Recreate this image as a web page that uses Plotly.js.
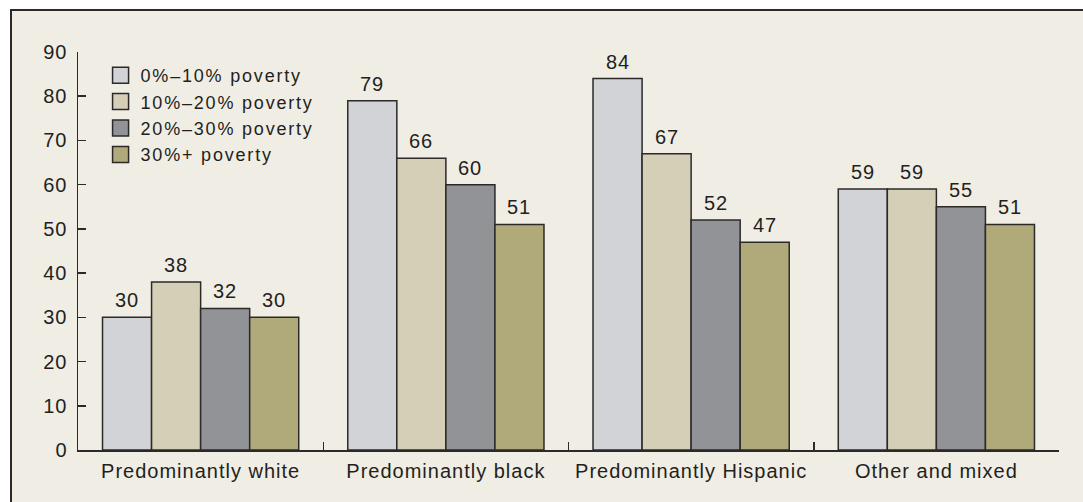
<!DOCTYPE html>
<html>
<head>
<meta charset="utf-8">
<script src="https://cdn.plot.ly/plotly-3.0.1.min.js"></script>
<style>
  html, body { margin: 0; padding: 0; background: #ffffff; width: 1083px; height: 502px; overflow: hidden; }
  #frame { position: absolute; left: 10px; top: 9px; width: 1073px; height: 493px;
           border-left: 2px solid #2b2a29; border-top: 2px solid #2b2a29; background: #f0ede5; }
  #chart { width: 1071px; height: 491px; }
  #chart text { letter-spacing: 1px; }
  #chart .legend text { letter-spacing: 1.8px; }
  #chart .legend .scrollbox, #chart .legend { clip-path: none !important; }
</style>
</head>
<body>
<div id="frame"><div id="chart"></div></div>
<script>
const categories = ["Predominantly white", "Predominantly black", "Predominantly Hispanic", "Other and mixed"];
const seriesNames = ["0%\u201310% poverty", "10%\u201320% poverty", "20%\u201330% poverty", "30%+ poverty"];
const pov0_10 = [30, 79, 84, 59];
const pov10_20 = [38, 66, 67, 59];
const pov20_30 = [32, 60, 52, 55];
const pov30plus = [30, 51, 47, 51];
const yTicks = [0, 10, 20, 30, 40, 50, 60, 70, 80, 90];

const seriesValues = [pov0_10, pov10_20, pov20_30, pov30plus];
const colors = ["#d2d3d6", "#d6cfb7", "#929397", "#b0aa7b"];
const edge = "#2b2a29";
const textColor = "#231f20";
const fontFam = "Liberation Sans, Arial, Helvetica, sans-serif";

const traces = [];
seriesValues.forEach((vals, i) => {
  traces.push({
    type: "bar", x: categories, y: vals, name: seriesNames[i], showlegend: false,
    marker: { color: colors[i], line: { color: edge, width: 1.5 } },
    hoverinfo: "x+y"
  });
});
// legend-only entries with larger square swatches
seriesValues.forEach((vals, i) => {
  traces.push({
    type: "scatter", mode: "markers", x: [null], y: [null], name: seriesNames[i],
    marker: { symbol: "square", size: 16, color: colors[i], line: { color: edge, width: 1.5 } },
    hoverinfo: "skip"
  });
});

const nS = seriesValues.length;
const groupWidth = 0.8;
const barW = groupWidth / nS;
const annotations = [];
seriesValues.forEach((vals, i) => {
  vals.forEach((v, j) => {
    annotations.push({
      xref: "x", yref: "y", x: j - groupWidth / 2 + barW * (i + 0.5), y: v,
      text: String(v), showarrow: false, yanchor: "bottom", yshift: 4,
      font: { family: fontFam, size: 20, color: textColor }
    });
  });
});

const layout = {
  width: 1071, height: 491,
  margin: { l: 66, r: 24, t: 41, b: 52 },
  paper_bgcolor: "rgba(0,0,0,0)", plot_bgcolor: "rgba(0,0,0,0)",
  barmode: "group", bargap: 0.2, bargroupgap: 0,
  font: { family: fontFam, size: 20, color: textColor },
  xaxis: {
    type: "category", showgrid: false, showline: true, linecolor: edge, linewidth: 1.5,
    ticks: "inside", tickson: "boundaries", ticklen: 8, tickwidth: 1.5, tickcolor: edge,
    tickfont: { family: fontFam, size: 20, color: textColor }, ticklabelstandoff: 2,
    zeroline: false, fixedrange: true
  },
  yaxis: {
    range: [0, 90], tickvals: yTicks, ticktext: yTicks.map(String),
    showgrid: false, showline: true, linecolor: edge, linewidth: 1.5,
    ticks: "inside", ticklen: 8, tickwidth: 1.5, tickcolor: edge,
    tickfont: { family: fontFam, size: 20, color: textColor }, ticklabelstandoff: 5,
    zeroline: false, fixedrange: true
  },
  legend: {
    x: 0.023, xanchor: "left", y: 0.9875, yanchor: "top", bgcolor: "rgba(0,0,0,0)",
    font: { family: fontFam, size: 18, color: textColor }, itemclick: false, itemdoubleclick: false
  },
  annotations: annotations,
  showlegend: true
};

Plotly.newPlot("chart", traces, layout, { displayModeBar: false, staticPlot: true });
</script>
</body>
</html>
